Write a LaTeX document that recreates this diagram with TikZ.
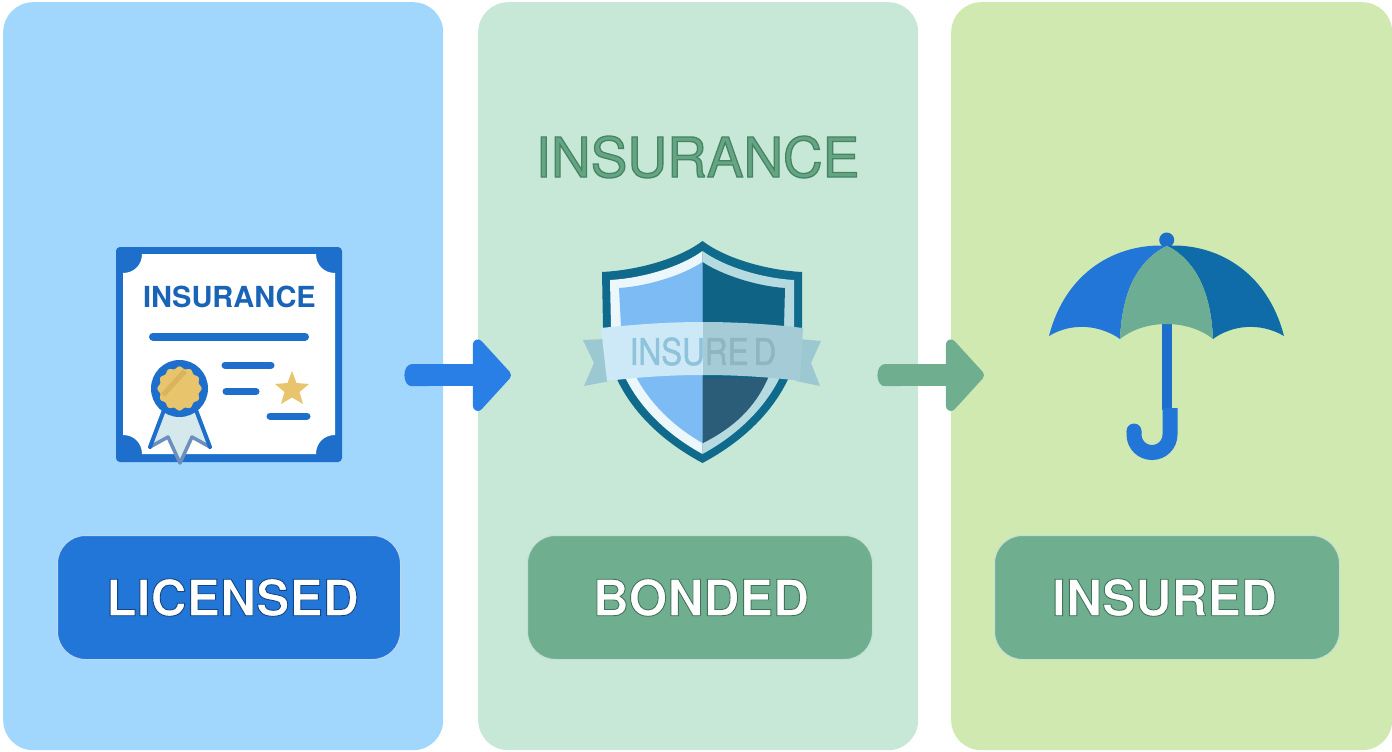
\documentclass[tikz,border=0pt]{standalone}
\usepackage{fontspec}
\setmainfont{TeX Gyre Heros}
\newfontfamily\sealfont[FakeStretch=0.85,FakeBold=1.2]{TeX Gyre Heros}
\newcommand{\strokedtext}[3]{\special{pdf:code 2 Tr #1 w #2 RG}#3\special{pdf:code 0 Tr}}
\usetikzlibrary{arrows.meta,calc}
\definecolor{pBlue}{HTML}{A2D7FD}
\definecolor{pMint}{HTML}{C7E8D6}
\definecolor{pLime}{HTML}{CFE9B1}
\definecolor{cBlue}{HTML}{2176D8}
\definecolor{aBlue}{HTML}{2A7FE6}
\definecolor{cGreen}{HTML}{6FAF90}
\definecolor{hGreen}{HTML}{66A583}
\definecolor{dBlue}{HTML}{1D6FCB}
\definecolor{gold}{HTML}{E8C56C}
\definecolor{goldDark}{RGB}{217,180,92}
\definecolor{teal}{HTML}{0F6A8C}
\definecolor{ribbonFill}{RGB}{213,232,236}
\definecolor{ribbonEdge}{RGB}{108,143,192}
\definecolor{ringL}{RGB}{235,247,251}
\definecolor{ringR}{RGB}{181,219,224}
\definecolor{shieldL}{RGB}{125,187,245}
\definecolor{shieldR}{RGB}{15,100,133}
\definecolor{shieldRB}{RGB}{43,92,120}
\definecolor{tail}{RGB}{156,201,209}
\definecolor{bannerL}{RGB}{205,233,247}
\definecolor{bannerR}{RGB}{165,203,214}
\definecolor{wordL}{RGB}{143,195,220}
\definecolor{wordR}{RGB}{141,181,194}
\definecolor{umbR}{RGB}{15,108,168}
\definecolor{umbM}{RGB}{108,173,147}
\tikzset{
  panel/.style={rounded corners=30pt,minimum width=440pt,minimum height=748pt,inner sep=0pt,anchor=north west},
  badge/.style={rounded corners=28pt,minimum height=124pt,inner sep=0pt,text=white,font=\fontsize{50}{50}\selectfont\bfseries},
  flow/.style={line width=22pt,{Round Cap[length=7pt]}-{Triangle[length=40pt,width=85pt,round,line width=14pt]}},
  bar/.style={draw=dBlue,line width=7pt,line cap=round},
}
\begin{document}
\begin{tikzpicture}[x=1pt,y=-1pt]
\useasboundingbox (0,0) rectangle (1392,752);
\node[panel,fill=pBlue] (panelA) at (3,2) {};
\node[panel,fill=pMint] (panelB) at (478,2) {};
\node[panel,fill=pLime,minimum width=441pt] (panelC) at (951,2) {};
% badges
\node[badge,fill=cBlue,draw=cBlue!30!white,line width=1pt,minimum width=343pt] (licensed) at (229,597.5) {\hspace*{7pt}\strokedtext{0.9}{0.08 0.27 0.5}{LICENSED}};
\node[badge,fill=cGreen,draw=cGreen!40!white,line width=1pt,minimum width=345pt] (bonded) at (700,597.5) {\hspace*{2pt}\strokedtext{0.9}{0.25 0.45 0.35}{BONDED}};
\node[badge,fill=cGreen,draw=cGreen!40!white,line width=1pt,minimum width=345pt] (insured) at (1167,597.5) {\strokedtext{0.9}{0.25 0.45 0.35}{INSURED}\hspace*{5pt}};
\node[text=hGreen,font=\fontsize{55}{56}\selectfont,inner sep=0pt] (heading) at (697.5,157) {\strokedtext{1.3}{0.27 0.52 0.39}{INSURANCE}};
% arrows
\draw[flow,draw=aBlue,fill=aBlue] ([xshift=-39pt,yshift=1pt]panelA.east) -- ([xshift=33pt,yshift=1pt]panelB.west);
\draw[flow,draw=cGreen,fill=cGreen] ([xshift=-41pt,yshift=1pt]panelB.east) -- ([xshift=33pt,yshift=1pt]panelC.west);
% certificate
\fill[dBlue,rounded corners=4pt] (116,247) rectangle (342,462);
\fill[white] (123,273) .. controls (134,273) and (142,265) .. (142,254) -- (316,254)
  .. controls (316,265) and (324,273) .. (335,273) -- (335,435)
  .. controls (324,435) and (316,443) .. (316,454) -- (142,454)
  .. controls (142,443) and (134,435) .. (123,435) -- cycle;
\node[text=dBlue!90!black,font=\fontsize{29}{29}\selectfont\bfseries,inner sep=0pt] (certtitle) at (229.5,296.5) {INSURANCE};
\draw[bar,line width=8pt] (153,336.5) -- (305,336.5);
\draw[bar] (225,365) -- (271,365);
\draw[bar] (226,391.5) -- (256,391.5);
\draw[bar] (270,416) -- (307,416);
\fill[gold] (292,371) -- (296.5,383) -- (309,384) -- (299.5,392) -- (303,404) -- (292,397.5) -- (281,404) -- (284.5,392) -- (275,384) -- (287.5,383) -- cycle;
% seal ribbon
\fill[ribbonFill] (164,410) -- (150,447) -- (168,437) -- (180,465) -- (192,437) -- (210,447) -- (196,410) -- cycle;
\draw[draw=ribbonEdge,line width=3.5pt,line join=round] (150,447) -- (168,437) -- (180,463) -- (192,437) -- (210,447);
\draw[draw=dBlue,line width=4pt,line cap=round] (164,410) -- (150,447);
\draw[draw=dBlue,line width=4pt,line cap=round] (196,410) -- (210,447);
\fill[dBlue] (179.5,388.5) circle[radius=28.5pt];
\begin{scope}
\clip plot[domain=0:360,samples=121,smooth] ({179.5+(21+1.1*cos(12*\x))*cos(\x)},{388.5+(21+1.1*cos(12*\x))*sin(\x)}) -- cycle;
\fill[gold] (150,360) rectangle (210,420);
\draw[line width=5pt,goldDark] (163,395) -- (185,371);
\end{scope}
% shield
\fill[teal] (702.5,241) .. controls (680,258) and (640,270) .. (602,272) -- (603,327)
  .. controls (608,390) and (650,435) .. (702.5,463)
  .. controls (755,435) and (797,390) .. (802,327) -- (802,272)
  .. controls (765,270) and (725,258) .. (702.5,241) -- cycle;
\fill[ringL] (702.5,251) .. controls (682,266) and (645,278) .. (610,280) -- (611,327)
  .. controls (616,385) and (655,428) .. (702.5,454) -- cycle;
\fill[ringR] (702.5,251) .. controls (723,266) and (760,278) .. (794,280) -- (794,327)
  .. controls (789,385) and (750,428) .. (702.5,454) -- cycle;
\fill[shieldL] (702.5,262) .. controls (685,274) and (650,286) .. (619,288) -- (621,327)
  .. controls (626,380) and (662,420) .. (702.5,443) -- cycle;
\fill[shieldR] (702.5,262) .. controls (720,274) and (755,286) .. (785,288) -- (784,327)
  .. controls (778,380) and (743,420) .. (702.5,443) -- cycle;
\fill[shieldRB] (703,378) -- (768,378) .. controls (755,408) and (733,428) .. (703,443) -- cycle;
\fill[tail] (583,340) -- (605,339) -- (610,381) -- (584,386) -- (594,363) -- cycle;
\fill[tail] (821,341) -- (799,339) -- (796,381) -- (820,386) -- (811,363) -- cycle;
\fill[bannerL] (601,328) .. controls (640,324) and (670,322) .. (703,322) -- (703,375) .. controls (670,375) and (640,377) .. (607,381) -- cycle;
\fill[bannerR] (803,328) .. controls (770,324) and (735,322) .. (703,322) -- (703,375) .. controls (735,375) and (770,377) .. (800,381) -- cycle;
\begin{scope}
\clip (580,320) rectangle (703,385);
\node[text=wordL,font=\sealfont\fontsize{37}{37}\selectfont,inner sep=0pt] (sealA) at (703,351.5) {\spaceskip=5pt INSURE D};
\end{scope}
\begin{scope}
\clip (703,320) rectangle (830,385);
\node[text=wordR,font=\sealfont\fontsize{37}{37}\selectfont,inner sep=0pt] (sealB) at (703,351.5) {\spaceskip=5pt INSURE D};
\end{scope}
% umbrella
\fill[dBlue] (1162,320) rectangle (1172,410);
\draw[draw=cBlue,line width=15pt] (1170,408) -- (1170,434.5) .. controls (1170,444.5) and (1162,452.5) .. (1152,452.5) .. controls (1142,452.5) and (1134,444.5) .. (1134,434.5) -- (1134,431);
\fill[cBlue] (1134,431) circle[radius=7.5pt];
\fill[dBlue] (1166.7,240) circle[radius=7.5pt];
\fill[cBlue] (1167,245.7) .. controls (1118,243) and (1066,270) .. (1049,336) .. controls (1072,322) and (1100,325) .. (1120,339) .. controls (1122,295) and (1135,262) .. (1167,245.7) -- cycle;
\fill[umbR] (1167,245.7) .. controls (1215,243) and (1267,270) .. (1284,336) .. controls (1260,322) and (1232,325) .. (1213,339) .. controls (1211,295) and (1198,262) .. (1167,245.7) -- cycle;
\fill[umbM] (1167,245.7) .. controls (1135,262) and (1122,295) .. (1120,339) .. controls (1145,319) and (1188,319) .. (1213,339) .. controls (1211,295) and (1198,262) .. (1167,245.7) -- cycle;
\end{tikzpicture}
\end{document}
